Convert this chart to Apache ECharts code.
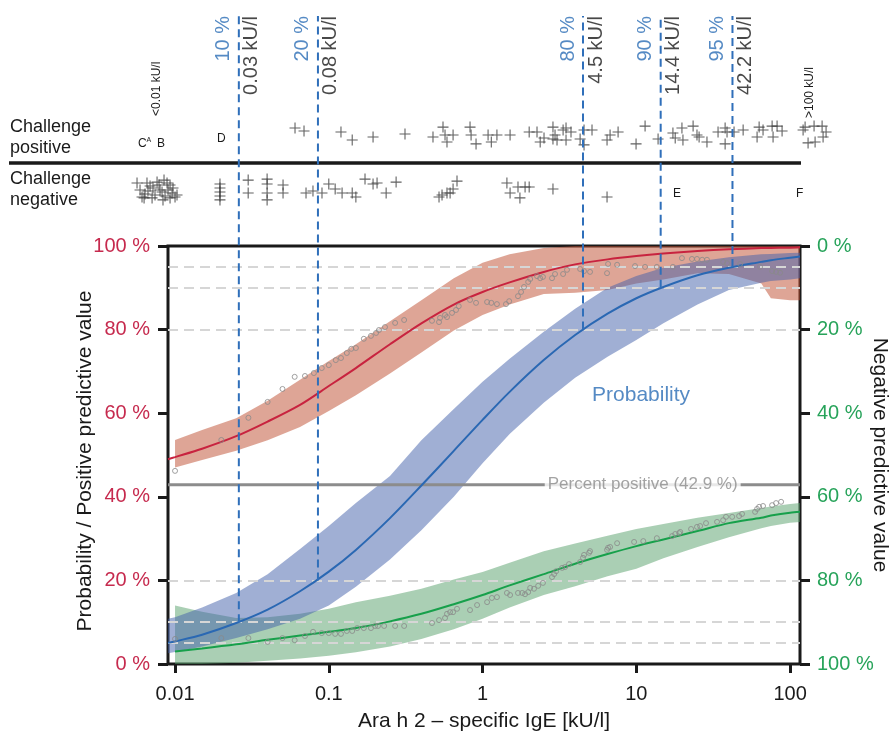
<!DOCTYPE html>
<html><head><meta charset="utf-8">
<script src="https://cdn.jsdelivr.net/npm/echarts@6/dist/echarts.min.js"></script>
<style>html,body{margin:0;padding:0;background:#fff}#c{width:893px;height:736px}</style>
</head><body><div id="c"></div>
<script>
// ---------------- data ----------------
const igeGrid = [0.009, 0.01, 0.015, 0.025, 0.04, 0.065, 0.1, 0.15, 0.25, 0.4, 0.65, 1, 1.5, 2.5, 4, 6.5, 10, 15, 25, 40, 65, 75, 100, 116];
const ppvLine  = [49.0, 49.5, 51.5, 54.5, 58.0, 62.0, 66.5, 70.8, 76.5, 81.5, 86.0, 89.0, 91.3, 93.8, 95.6, 96.8, 97.6, 98.2, 98.8, 99.2, 99.5, 99.55, 99.6, 99.7];
const ppvUpper = [null, 53.6, 56.0, 58.8, 63.0, 68.0, 72.5, 76.5, 82.0, 87.0, 92.3, 96.0, 98.0, 99.5, 100, 100, 100, 100, 100, 100, 100, 100, 100, 100];
const ppvLower = [null, 47.0, 48.8, 51.0, 53.5, 56.7, 60.5, 64.3, 69.5, 74.5, 79.8, 83.5, 86.0, 88.5, 88.8, 89.5, 91.0, 92.0, 93.5, 93.3, 91.0, 87.5, 87.0, 87.0];
const probLine  = [5.05, 5.4, 7.0, 9.8, 13.0, 17.4, 22.1, 27.3, 34.9, 42.7, 51.0, 58.4, 65.1, 72.7, 78.7, 83.8, 87.5, 90.2, 93.0, 94.8, 96.2, 96.6, 97.2, 97.5];
const probUpper = [10.8, 11.2, 13.5, 17.0, 21.5, 27.5, 33.0, 38.5, 45.0, 53.5, 61.0, 67.5, 73.0, 79.5, 85.0, 90.0, 92.8, 94.8, 96.3, 97.3, 98.0, 98.1, 98.3, 98.4];
const probLower = [2.6, 2.9, 4.2, 6.2, 8.3, 10.8, 14.0, 18.5, 25.0, 32.0, 40.0, 48.0, 55.0, 62.5, 68.5, 73.5, 77.5, 81.5, 86.0, 89.5, 91.2, 91.6, 92.0, 92.3];
const npvLine  = [null, 97.0, 96.3, 95.3, 94.2, 93.2, 92.3, 91.4, 89.8, 88.0, 85.7, 83.5, 81.2, 78.5, 76.0, 73.7, 71.8, 70.2, 68.2, 66.3, 65.0, 64.5, 63.8, 63.6];
const npvUpper = [null, 100, 100, 99.7, 99.2, 98.7, 98.0, 97.2, 95.8, 94.0, 91.7, 89.2, 86.5, 83.5, 81.4, 79.0, 77.2, 74.7, 72.0, 69.7, 67.5, 67.0, 66.2, 66.0];
const npvLower = [null, 86.0, 87.5, 89.0, 88.8, 88.0, 86.8, 85.2, 83.7, 82.0, 79.8, 78.0, 75.8, 73.0, 71.2, 69.3, 67.7, 66.5, 65.0, 63.9, 62.7, 62.3, 61.7, 61.5];

const ppvObsIgE = [0.010,0.020,0.030,0.040,0.050,0.060,0.070,0.080,0.090,0.100,0.111,0.120,0.131,0.140,0.150,0.169,0.188,0.203,0.212,0.232,0.270,0.309,0.469,0.521,0.529,0.570,0.587,0.633,0.672,0.700,0.829,0.907,1.07,1.14,1.24,1.42,1.49,1.70,1.78,1.86,1.98,2.04,2.26,2.37,2.47,2.83,2.96,3.34,3.54,4.31,4.57,5.00,6.45,6.55,7.50,9.81,11.4,13.6,17.3,19.8,23.0,24.8,26.8,28.8,36.7,38.9,47.3,63.8,76.4,81.1,86.1];
const ppvObsPct = [46.2,53.6,58.9,62.7,65.8,68.7,68.9,69.6,70.8,71.5,72.7,73.2,74.4,75.4,75.6,77.8,78.5,79.2,79.9,80.6,81.6,82.3,82.1,81.8,82.8,83.5,83.0,84.0,84.7,85.6,87.1,86.4,86.6,86.4,86.1,86.1,86.8,88.0,89.0,90.2,91.4,92.1,92.8,92.3,92.6,92.3,93.3,93.3,94.3,94.5,94.0,93.8,93.5,95.7,95.5,95.2,95.0,95.0,95.0,97.1,96.9,96.9,96.7,96.7,96.2,95.9,95.7,95.0,94.0,93.8,93.6];
const npvObsIgE = [0.010,0.020,0.030,0.040,0.050,0.060,0.070,0.079,0.090,0.100,0.110,0.120,0.131,0.142,0.153,0.169,0.188,0.200,0.209,0.229,0.270,0.309,0.469,0.521,0.570,0.587,0.615,0.643,0.682,0.829,0.921,1.07,1.15,1.24,1.44,1.51,1.70,1.81,1.89,1.98,2.04,2.16,2.30,2.47,2.83,2.92,3.01,3.29,3.44,3.65,4.31,4.50,4.57,4.93,5.00,6.45,6.55,6.75,7.50,9.67,11.1,13.6,17.1,17.9,19.0,19.3,22.7,24.8,26.0,28.4,33.5,36.7,38.3,42.0,46.6,48.7,59.2,61.0,62.9,66.7,76.4,81.1,87.4];
const npvObsPct = [94.0,93.8,93.8,94.7,93.8,94.3,93.3,92.3,92.6,92.6,92.8,92.8,92.1,92.1,91.4,91.4,91.4,90.9,90.9,90.9,90.9,90.9,90.2,89.5,89.0,88.0,87.6,87.6,86.8,87.1,85.9,85.2,84.2,84.0,83.0,83.5,83.0,83.0,83.3,82.8,81.8,82.0,81.3,80.6,79.2,78.5,77.8,77.0,76.8,76.1,75.6,74.6,73.9,73.4,73.0,72.7,72.2,72.0,71.1,70.8,70.6,69.9,69.4,68.9,68.7,68.4,67.7,67.2,67.0,66.3,66.0,65.6,64.8,64.8,64.6,64.1,63.6,62.9,62.4,62.2,62.0,61.5,61.2];

const posIgE = [0.0603,0.069,0.120,0.142,0.194,0.313,0.476,0.553,0.570,0.587,0.643,0.829,0.842,0.907,1.086,1.14,1.24,1.51,2.01,2.26,2.37,2.51,2.87,2.87,2.96,3.05,3.34,3.49,3.49,3.76,4.31,4.57,4.57,5.15,6.45,6.75,7.61,9.96,11.4,13.85,17.3,17.9,19.8,20.1,23.4,24.8,25.6,28.8,34.0,37.8,37.8,38.9,43.2,49.5,61.0,62.9,66.7,77.5,76.4,82.3,88.7,121.5,125.2,130.9,143.2,145.4,161.5,163.9,171.4];
const posJitter = [0.7,0.4,0.3,-0.5,-0.2,0.1,-0.2,0.8,0,-0.7,0,0.8,0,-0.9,0,-0.7,0,0,0.3,0.3,-0.7,-0.3,0.8,-0.4,0,-0.5,0.5,0.7,-0.5,0.3,-0.4,0.5,-1.0,0.5,-0.5,0,0.3,-0.9,0.9,-0.4,0.2,-0.3,0.7,-0.5,0.9,0,-0.2,-0.7,0.3,0.7,-0.9,0.3,0.3,0.5,-0.2,0.8,0.5,-0.2,0.9,0.9,0.4,0.5,0.8,-0.8,0.9,-0.7,0.9,-0.2,0.3];
const negIgE = [0.00566,0.0061,0.00657,0.00667,0.00709,0.00764,0.00787,0.00823,0.00835,0.00887,0.00901,0.00956,0.0100,0.00592,0.00629,0.00719,0.00848,0.00928,0.0103,0.0196,0.0196,0.0196,0.0196,0.0196,0.0299,0.0299,0.0397,0.0397,0.0397,0.0397,0.0504,0.0504,0.0711,0.0789,0.0903,0.100,0.110,0.122,0.142,0.150,0.172,0.194,0.206,0.236,0.274,0.521,0.587,0.545,0.615,0.643,0.682,1.44,1.51,1.70,1.75,1.89,2.01,2.87,6.45,0.00688,0.00741,0.00799,0.00861,0.00928,0.00638,0.0097];
const negJitter = [0.7,-0.7,0.7,-0.1,-0.8,0.8,0.5,-0.2,-1.0,0.7,0,-0.3,-0.7,0,-0.8,0.2,1.0,-0.8,-0.5,0.6,0.2,-0.2,-0.6,-1.0,1.0,-0.3,1.1,0.6,-0.3,-1.0,0.5,-0.3,-0.3,-0.1,-0.3,0.6,0.1,-0.3,-0.3,-0.7,1.1,0.6,0.7,-0.3,0.8,-0.7,-0.3,-0.5,-0.3,0.1,0.9,0.7,-0.3,0.3,-0.8,0.3,0.3,0.1,-0.7,0.4,-0.5,0,-0.6,0.5,-0.4,0.2];

const cutoffIgE = [0.026, 0.085, 4.5, 14.4, 42.2];
const cutoffProb = [10, 20, 80, 90, 95];
const cutoffPctLabels = ['10 %', '20 %', '80 %', '90 %', '95 %'];
const cutoffIgELabels = ['0.03 kU/l', '0.08 kU/l', '4.5 kU/l', '14.4 kU/l', '42.2 kU/l'];
const guideLevels = [5, 10, 20, 80, 90, 95];
const percentPositive = 42.9;
const xTickValues = [0.01, 0.1, 1, 10, 100];
const xTickLabels = ['0.01', '0.1', '1', '10', '100'];

// ---------------- layout / style ----------------
const FONT = "'Liberation Sans', Arial, Helvetica, sans-serif";
const W = 893;
const MAIN = {left: 168, top: 246, width: 632, height: 418};
const X_MIN = 0.009, X_MAX = 116;
const lmin = Math.log10(X_MIN), lmax = Math.log10(X_MAX);
const ppd = MAIN.width / (lmax - lmin);
const stripMin = Math.pow(10, lmin - MAIN.left / ppd);
const stripMax = Math.pow(10, lmax + (W - MAIN.left - MAIN.width) / ppd);
const TOP_VAL = 100 + (MAIN.top - 16) / MAIN.height * 100;
const ROW_SPREAD = 0.18;
const RED = '#c8233f', BLUE = '#2a68b3', GREEN = '#17a04b';
const RED_TXT = '#c62a4e', GREEN_TXT = '#27a35a', BLUE_TXT = '#2b6db5';
const PLUS = 'path://M4.5,0H5.5V4.5H10V5.5H5.5V10H4.5V5.5H0V4.5H4.5Z';

function band(lo, hi, fill, yAxisIndex, z) {
  return {
    type: 'custom', xAxisIndex: 0, yAxisIndex: yAxisIndex, z: z, silent: true,
    data: [[1, 50]],
    renderItem: function (params, api) {
      const pts = [];
      for (let i = 0; i < igeGrid.length; i++) if (hi[i] != null) pts.push(api.coord([igeGrid[i], hi[i]]));
      for (let i = igeGrid.length - 1; i >= 0; i--) if (lo[i] != null) pts.push(api.coord([igeGrid[i], lo[i]]));
      return {type: 'polygon', shape: {points: pts}, style: {fill: fill}};
    }
  };
}
function curve(vals, color, yAxisIndex) {
  return {
    type: 'line', xAxisIndex: 0, yAxisIndex: yAxisIndex, z: 5, silent: true,
    data: igeGrid.map((x, i) => vals[i] == null ? null : [x, vals[i]]).filter(Boolean),
    showSymbol: false, smooth: 0.3, lineStyle: {color: color, width: 2}
  };
}
function circles(xs, ys, yAxisIndex) {
  return {
    type: 'scatter', xAxisIndex: 0, yAxisIndex: yAxisIndex, z: 6, silent: true,
    data: xs.map((x, i) => [x, ys[i]]), symbol: 'circle', symbolSize: 5,
    itemStyle: {color: 'rgba(0,0,0,0)', borderColor: '#8a8a8a', borderWidth: 1}
  };
}
function xLabel(v) {
  const i = xTickValues.findIndex(t => Math.abs(Math.log10(t) - Math.log10(v)) < 1e-6);
  return i >= 0 ? xTickLabels[i] : '';
}

const series = [
  band(ppvLower, ppvUpper, 'rgba(190,75,45,0.5)', 0, 1),
  band(npvLower, npvUpper, 'rgba(85,160,105,0.5)', 1, 1),
  band(probLower, probUpper, 'rgba(65,95,170,0.5)', 0, 2),
  {
    type: 'line', xAxisIndex: 0, yAxisIndex: 0, z: 4, silent: true,
    data: [[X_MIN, percentPositive], [X_MAX, percentPositive]], showSymbol: false,
    lineStyle: {color: '#8c8c8c', width: 3},
    markLine: {
      silent: true, symbol: 'none', z: 3, animation: false, label: {show: false},
      lineStyle: {color: '#d6d6d6', width: 2, type: [10, 6]},
      data: guideLevels.map(v => ({yAxis: v}))
    }
  },
  curve(ppvLine, RED, 0),
  curve(npvLine, GREEN, 1),
  curve(probLine, BLUE, 0),
  circles(ppvObsIgE, ppvObsPct, 0),
  circles(npvObsIgE, npvObsPct, 1),
  {
    type: 'scatter', xAxisIndex: 0, yAxisIndex: 0, z: 9, silent: true, clip: false,
    data: [[11.0, percentPositive]], symbolSize: 1, itemStyle: {color: 'rgba(0,0,0,0)'},
    label: {show: true, position: 'inside', formatter: 'Percent positive (' + percentPositive + ' %)',
      fontSize: 17, color: '#8c8c8c', backgroundColor: '#fff', padding: [1, 3], fontFamily: FONT}
  },
  {
    type: 'scatter', xAxisIndex: 0, yAxisIndex: 0, z: 9, silent: true, clip: false,
    data: [[10.74, 64.4]], symbolSize: 1, itemStyle: {color: 'rgba(0,0,0,0)'},
    label: {show: true, position: 'inside', formatter: 'Probability', fontSize: 21, color: BLUE_TXT, fontFamily: FONT}
  },
  {
    type: 'scatter', xAxisIndex: 0, yAxisIndex: 0, z: 9, silent: true, clip: false,
    data: cutoffIgE.map(c => [c, TOP_VAL]), symbolSize: 1, itemStyle: {color: 'rgba(0,0,0,0)'},
    label: {show: true, position: 'inside', rotate: 90, align: 'right', verticalAlign: 'bottom',
      padding: [0, 0, 5, 0], fontSize: 20, color: BLUE_TXT, fontFamily: FONT,
      formatter: p => cutoffPctLabels[p.dataIndex]}
  },
  {
    type: 'scatter', xAxisIndex: 0, yAxisIndex: 0, z: 9, silent: true, clip: false,
    data: cutoffIgE.map(c => [c, TOP_VAL]), symbolSize: 1, itemStyle: {color: 'rgba(0,0,0,0)'},
    label: {show: true, position: 'inside', rotate: 90, align: 'right', verticalAlign: 'top',
      padding: [3, 0, 0, 0], fontSize: 20, color: '#1a1a1a', fontFamily: FONT,
      formatter: p => cutoffIgELabels[p.dataIndex]}
  },
  {
    type: 'scatter', xAxisIndex: 1, yAxisIndex: 2, silent: true, clip: false, z: 5,
    data: posIgE.map((x, i) => [x, 1 + posJitter[i] * ROW_SPREAD]),
    symbol: PLUS, symbolSize: 11, itemStyle: {color: '#3a3a3a', opacity: 0.8}
  },
  {
    type: 'scatter', xAxisIndex: 1, yAxisIndex: 2, silent: true, clip: false, z: 5,
    data: negIgE.map((x, i) => [x, 0 + negJitter[i] * ROW_SPREAD]),
    symbol: PLUS, symbolSize: 11, itemStyle: {color: '#3a3a3a', opacity: 0.8}
  }
];
cutoffIgE.forEach((c, i) => {
  series.push({
    type: 'line', xAxisIndex: 0, yAxisIndex: 0, z: 7, silent: true, clip: false,
    data: [[c, cutoffProb[i]], [c, TOP_VAL]], showSymbol: false,
    lineStyle: {color: '#2f6fba', width: 2, type: [8, 5]}
  });
});

const axisDark = '#1a1a1a';
const option = {
  animation: false,
  backgroundColor: '#fff',
  textStyle: {fontFamily: FONT},
  grid: [
    {left: MAIN.left, top: MAIN.top, width: MAIN.width, height: MAIN.height, show: true,
      outerBoundsMode: 'none', containLabel: false,
      borderColor: axisDark, borderWidth: 3, backgroundColor: 'rgba(0,0,0,0)'},
    {left: 0, top: 80, width: W, height: 165, outerBoundsMode: 'none', containLabel: false}
  ],
  xAxis: [
    {type: 'log', logBase: 10, gridIndex: 0, min: X_MIN, max: X_MAX,
      axisLine: {show: false}, splitLine: {show: false},
      axisTick: {show: true, length: 9, lineStyle: {color: axisDark, width: 3}, customValues: xTickValues},
      axisLabel: {customValues: xTickValues, formatter: xLabel, fontSize: 20, color: axisDark, margin: 20, fontFamily: FONT},
      name: 'Ara h 2 – specific IgE [kU/l]', nameLocation: 'middle', nameGap: 47, nameMoveOverlap: false,
      nameTextStyle: {fontSize: 21, color: axisDark, fontFamily: FONT}},
    {type: 'log', logBase: 10, gridIndex: 1, min: stripMin, max: stripMax, show: false}
  ],
  yAxis: [
    {type: 'value', gridIndex: 0, position: 'left', min: 0, max: 100, interval: 20,
      axisLine: {show: false}, splitLine: {show: false},
      axisTick: {show: true, length: 10, lineStyle: {color: axisDark, width: 3}},
      axisLabel: {formatter: '{value} %', fontSize: 20, color: RED_TXT, margin: 18, fontFamily: FONT},
      name: 'Probability / Positive predictive value', nameLocation: 'middle', nameRotate: 90, nameGap: 72,
      nameMoveOverlap: false,
      nameTextStyle: {fontSize: 21, color: axisDark, fontFamily: FONT, padding: [0, 12, 0, 0]}},
    {type: 'value', gridIndex: 0, position: 'right', min: 0, max: 100, interval: 20, inverse: true,
      axisLine: {show: false}, splitLine: {show: false},
      axisTick: {show: true, length: 10, lineStyle: {color: axisDark, width: 3}},
      axisLabel: {formatter: '{value} %', fontSize: 20, color: GREEN_TXT, margin: 17, fontFamily: FONT},
      name: 'Negative predictive value', nameLocation: 'middle', nameRotate: -90, nameGap: 69,
      nameMoveOverlap: false,
      nameTextStyle: {fontSize: 21, color: axisDark, fontFamily: FONT}},
    {type: 'value', gridIndex: 1, min: -1, max: 2, show: false}
  ],
  graphic: [
    {type: 'line', silent: true, shape: {x1: 9, y1: 163, x2: 801, y2: 163}, style: {stroke: axisDark, lineWidth: 3.5}},
    {type: 'text', silent: true, x: 10, y: 127, style: {text: 'Challenge', font: '18px ' + FONT, fill: axisDark, verticalAlign: 'middle'}},
    {type: 'text', silent: true, x: 10, y: 148, style: {text: 'positive', font: '18px ' + FONT, fill: axisDark, verticalAlign: 'middle'}},
    {type: 'text', silent: true, x: 10, y: 179, style: {text: 'Challenge', font: '18px ' + FONT, fill: axisDark, verticalAlign: 'middle'}},
    {type: 'text', silent: true, x: 10, y: 200, style: {text: 'negative', font: '18px ' + FONT, fill: axisDark, verticalAlign: 'middle'}},
    {type: 'text', silent: true, x: 157, y: 116, rotation: Math.PI / 2, style: {text: '<0.01 kU/l', font: '12px ' + FONT, fill: axisDark, verticalAlign: 'middle', align: 'left'}},
    {type: 'text', silent: true, x: 810, y: 118, rotation: Math.PI / 2, style: {text: '>100 kU/l', font: '12px ' + FONT, fill: axisDark, verticalAlign: 'middle', align: 'left'}},
    {type: 'text', silent: true, x: 138, y: 144, style: {text: 'C', font: '12px ' + FONT, fill: axisDark, verticalAlign: 'middle'}},
    {type: 'text', silent: true, x: 146.5, y: 140, style: {text: 'A', font: '7px ' + FONT, fill: axisDark, verticalAlign: 'middle'}},
    {type: 'text', silent: true, x: 157, y: 144, style: {text: 'B', font: '12px ' + FONT, fill: axisDark, verticalAlign: 'middle'}},
    {type: 'text', silent: true, x: 217, y: 139, style: {text: 'D', font: '12px ' + FONT, fill: axisDark, verticalAlign: 'middle'}},
    {type: 'text', silent: true, x: 673, y: 194, style: {text: 'E', font: '12px ' + FONT, fill: axisDark, verticalAlign: 'middle'}},
    {type: 'text', silent: true, x: 796, y: 194, style: {text: 'F', font: '12px ' + FONT, fill: axisDark, verticalAlign: 'middle'}}
  ],
  series: series
};
const chart = echarts.init(document.getElementById('c'), null, {renderer: 'canvas'});
chart.setOption(option);
</script></body></html>
